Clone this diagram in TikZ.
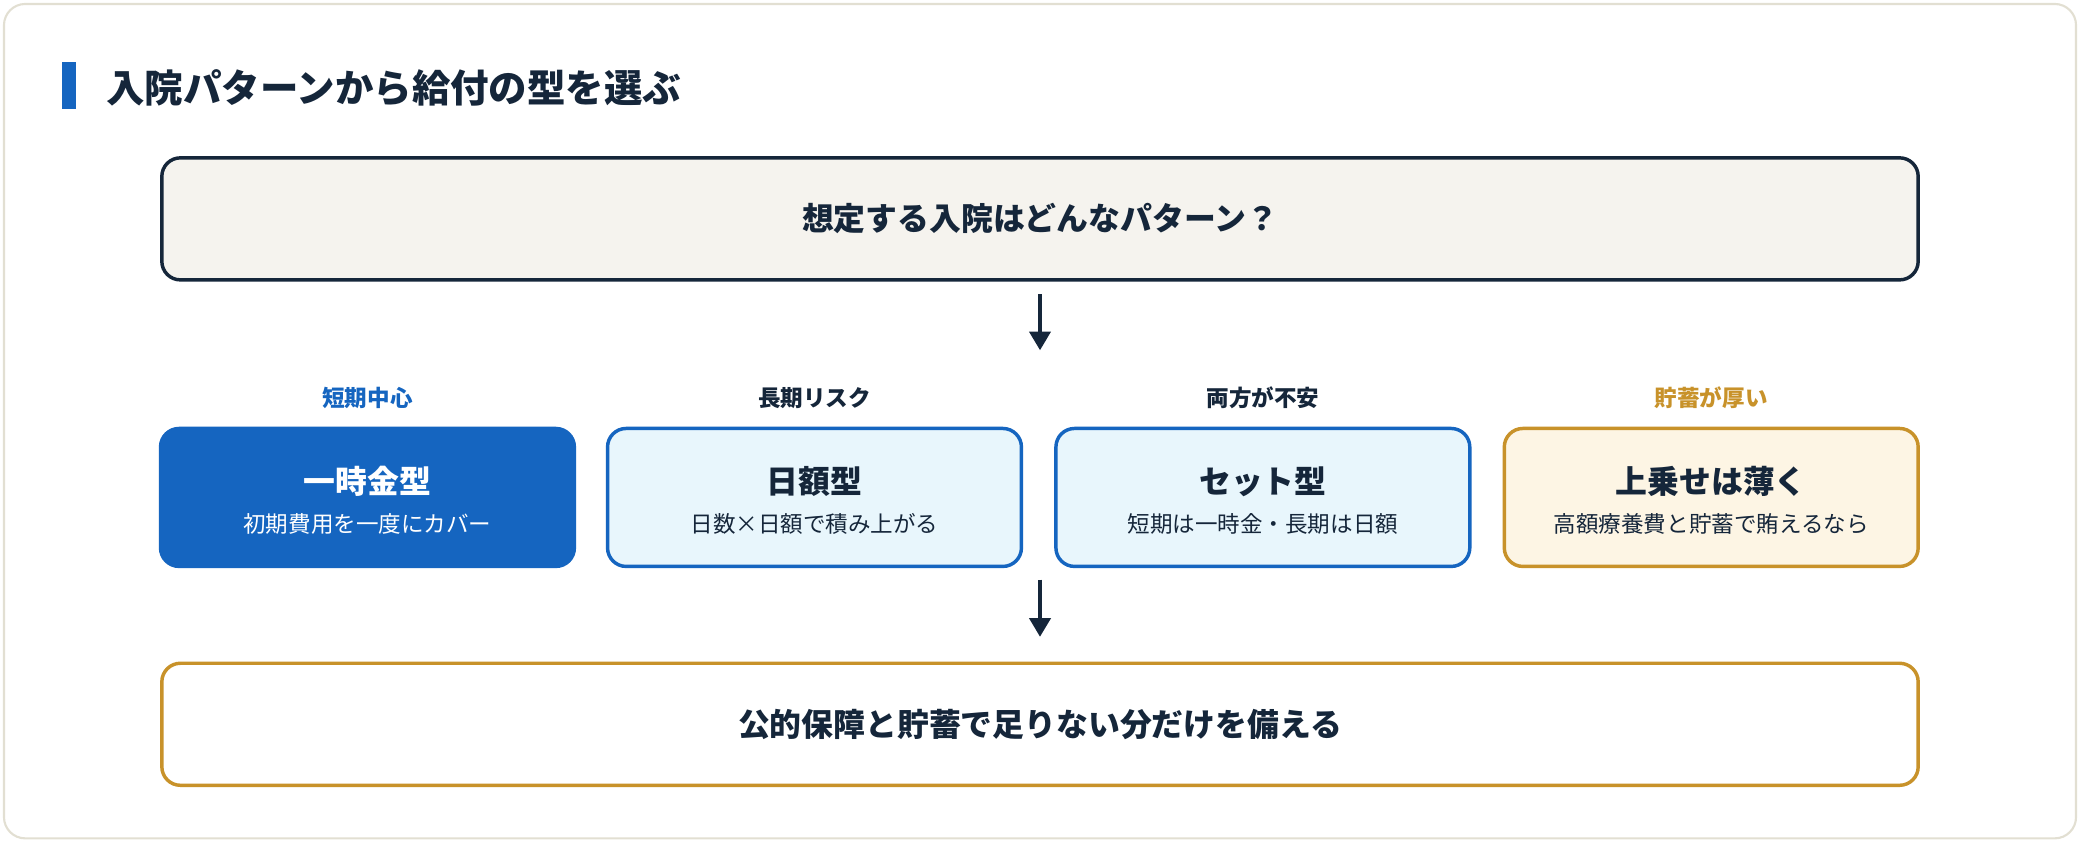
\documentclass[tikz,border=0pt]{standalone}
\usepackage{fontspec}
\setmainfont{Noto Sans CJK JP}
\usetikzlibrary{arrows.meta}
\definecolor{navy}{HTML}{15263A}
\definecolor{blu}{HTML}{1565C0}
\definecolor{gold}{HTML}{C8922A}
\definecolor{bg}{HTML}{F5F3EE}
\definecolor{lb}{HTML}{E8F6FC}
\definecolor{ly}{HTML}{FDF5E4}
\definecolor{frame}{HTML}{E2DFD2}
\begin{document}
\begin{tikzpicture}[x=0.5pt,y=-0.5pt,
 box/.style={rounded corners=7pt,line width=1.3pt},
 opt/.style={box,minimum width=156pt,minimum height=52pt,inner sep=0pt},
 lab/.style={font=\fontsize{8.5}{10}\selectfont\bfseries},
 arr/.style={navy,line width=1.2pt,-{Triangle[length=7pt,width=8pt]}}]
\useasboundingbox (0,0) rectangle (1568,635);
\draw[frame,line width=0.8pt,rounded corners=8pt,fill=white] (3,3) rectangle (1565,632);
\fill[blu] (47,47) rectangle (57,82);
\node[anchor=west,navy,font=\fontsize{14.5}{16}\selectfont\bfseries] (title) at (73,66) {入院パターンから給付の型を選ぶ};
\node[box,draw=navy,fill=bg,minimum width=662pt,minimum height=46pt] (top) at (784,165) {};
\node[navy,font=\fontsize{12}{14}\selectfont\bfseries] (toptext) at (top.center) {想定する入院はどんなパターン？};
\coordinate (a1s) at (784,222); \coordinate (a1e) at (784,264);
\draw[arr] (a1s) -- (a1e);
\node[lab,blu] (l1) at (277,300) {短期中心};
\node[lab,navy] (l2) at (614,300) {長期リスク};
\node[lab,navy] (l3) at (952,300) {両方が不安};
\node[lab,gold] (l4) at (1290,300) {貯蓄が厚い};
\node[opt,draw=blu,fill=blu] (b1) at (277,375) {};
\node[opt,draw=blu,fill=lb] (b2) at (614,375) {};
\node[opt,draw=blu,fill=lb] (b3) at (952,375) {};
\node[opt,draw=gold,fill=ly] (b4) at (1290,375) {};
\foreach \b/\m/\s/\c in {b1/一時金型/初期費用を一度にカバー/white, b2/日額型/日数×日額で積み上がる/navy, b3/セット型/短期は一時金・長期は日額/navy, b4/上乗せは薄く/高額療養費と貯蓄で賄えるなら/navy}{
 \node[\c,font=\fontsize{12}{14}\selectfont\bfseries] (\b m) at ([yshift=6pt]\b.center) {\m};
 \node[\c,font=\fontsize{8.5}{10}\selectfont] (\b s) at ([yshift=-10pt]\b.center) {\s};
}
\coordinate (a2s) at (784,437); \coordinate (a2e) at (784,480);
\draw[arr] (a2s) -- (a2e);
\node[box,draw=gold,fill=white,minimum width=662pt,minimum height=46pt] (bot) at (784,546) {};
\node[navy,font=\fontsize{12}{14}\selectfont\bfseries] (bottext) at (bot.center) {公的保障と貯蓄で足りない分だけを備える};
\end{tikzpicture}
\end{document}
